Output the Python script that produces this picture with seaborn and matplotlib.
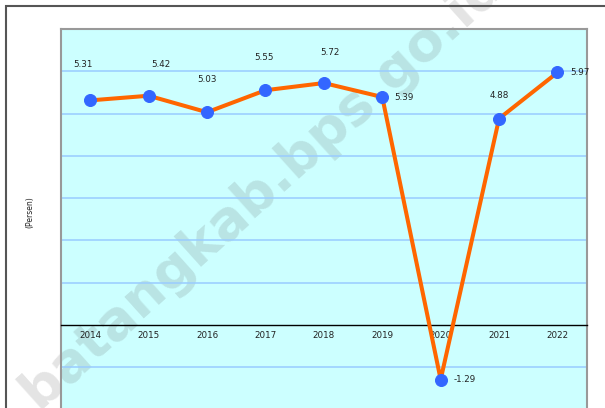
import matplotlib
matplotlib.use("Agg")
import matplotlib.pyplot as plt
import matplotlib.patches as patches
import numpy as np
import pandas as pd
import seaborn as sns

# data
years = ["2014", "2015", "2016", "2017", "2018", "2019", "2020", "2021", "2022"]
growth = [5.31, 5.42, 5.03, 5.55, 5.72, 5.39, -1.29, 4.88, 5.97]
# label offsets in pixels (dx, dy) and alignment
label_dx = [-7, 12, 0, -1, 6, 12, 13, 0, 13]
label_dy = [36, 31, 33, 33, 31, 0, 0, 23, 0]
label_ha = ["center", "center", "center", "center", "center", "left", "left", "center", "left"]

df = pd.DataFrame({"Tahun": years, "Pertumbuhan": growth})

sns.set_style("white")
plt.rcParams["font.family"] = ["DejaVu Sans"]

fig = plt.figure(figsize=(6.05, 4.08), dpi=100)
W, H = 605, 408

# axes placed in pixel terms: left 61, right 586.7, top (y=7) 28.9, bottom (y=-2) 409.6
ax = fig.add_axes([61 / W, (H - 409.6) / H, 525.7 / W, 380.7 / H])
ax.set_facecolor("#CCFFFF")

for g in [-1, 1, 2, 3, 4, 5, 6]:
    ax.axhline(g, color="#99CCFF", lw=1.1, zorder=1)

sns.lineplot(data=df, x="Tahun", y="Pertumbuhan", ax=ax, color="#FF6600",
             lw=2.9, marker="o", markersize=8.6, markerfacecolor="#3366FF",
             markeredgecolor="#3366FF", zorder=3, sort=False)

for i, v in enumerate(growth):
    ax.annotate(f"{v:.2f}", (i, v), xytext=(label_dx[i], label_dy[i]),
                textcoords="offset pixels", ha=label_ha[i], va="center",
                fontsize=6.3, color="#222222", zorder=4)

ax.set_xlim(-0.5, 8.5)
ax.set_ylim(-2, 7)
ax.set_yticks([])
ax.set_xlabel("")
ax.set_ylabel("")

ax.spines["bottom"].set_position(("data", 0))
ax.spines["bottom"].set_color("black")
ax.spines["bottom"].set_linewidth(1.0)
for s in ["left", "top", "right"]:
    ax.spines[s].set_color("#999999")
    ax.spines[s].set_linewidth(1.5)

ax.set_xticks(range(len(years)))
ax.set_xticklabels(years, fontsize=6.3, color="#222222")
ax.set_xticks(np.arange(-0.5, 9, 1), minor=True)
ax.tick_params(axis="x", which="major", length=0, pad=4)
ax.tick_params(axis="x", which="minor", length=3, width=1, color="black", direction="out")

fig.text(30 / W, 1 - 212 / H, "(Persen)", rotation=90, ha="center", va="center",
         fontsize=5.5, color="#222222")

# outer frame
fig.patches.append(patches.Rectangle((6 / W, -0.1), 1.2, 1 - 6 / H + 0.1,
                                     transform=fig.transFigure, fill=False,
                                     edgecolor="#555555", lw=1.5))

# watermark, behind the gridlines but above the plot background
ax.text(262 / W, 1 - 188 / H, "batangkab.bps.go.id", rotation=42,
        transform=fig.transFigure, clip_on=False,
        ha="center", va="center", fontsize=39, fontweight="bold",
        color="#555555", alpha=0.16, zorder=0.5)

fig.savefig("out.png", dpi=100)
